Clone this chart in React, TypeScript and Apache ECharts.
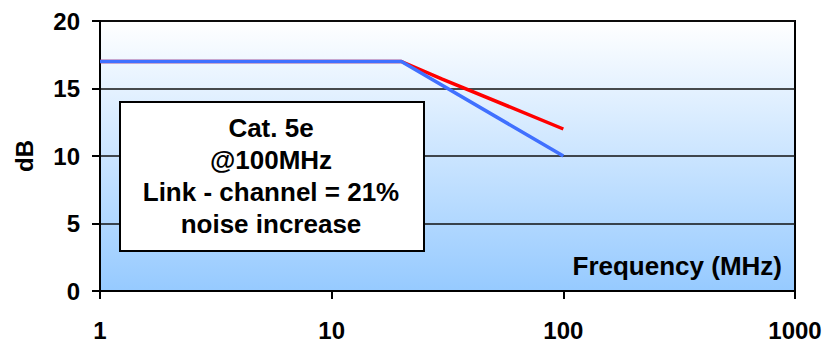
import React, { useEffect, useRef } from "react";
import * as echarts from "echarts";

const redSeries: [number, number][] = [[1, 17], [20, 17], [30, 15.7], [100, 12]];
const blueSeries: [number, number][] = [[1, 17], [20, 17], [100, 10]];
const noteLines = ["Cat. 5e", "@100MHz", "Link - channel = 21%", "noise increase"];
const xTitle = "Frequency (MHz)";
const yTitle = "dB";

export default function App() {
  const ref = useRef<HTMLDivElement>(null);
  useEffect(() => {
    const chart = echarts.init(ref.current!, null, { renderer: "svg" });
    const font = "Liberation Sans, Arial, sans-serif";
    chart.setOption({
      animation: false,
      grid: {
        left: 100, right: 30, top: 21, bottom: 49,
        show: true,
        borderColor: "#000", borderWidth: 2,
        backgroundColor: new echarts.graphic.LinearGradient(0, 0, 0, 1, [
          { offset: 0, color: "#FFFFFF" },
          { offset: 1, color: "#96CAFF" },
        ]),
      },
      xAxis: {
        type: "log", logBase: 10, min: 1, max: 1000,
        axisLine: { show: true, lineStyle: { color: "#000", width: 2 } },
        axisTick: { show: true, length: 8, lineStyle: { color: "#000", width: 2 } },
        axisLabel: {
          color: "#000", fontFamily: font, fontWeight: "bold", fontSize: 24, margin: 27,
          formatter: (v: number) => String(Math.round(v)),
        },
        splitLine: { show: false },
        minorTick: { show: false },
      },
      yAxis: {
        type: "value", min: 0, max: 20, interval: 5,
        name: yTitle, nameLocation: "middle", nameGap: 64, nameRotate: 90,
        nameTextStyle: { color: "#000", fontFamily: font, fontWeight: "bold", fontSize: 24 },
        axisLine: { show: true, lineStyle: { color: "#000", width: 2 } },
        axisTick: { show: true, length: 8, lineStyle: { color: "#000", width: 2 } },
        axisLabel: { color: "#000", fontFamily: font, fontWeight: "bold", fontSize: 24, margin: 20 },
        splitLine: { show: true, lineStyle: { color: "#111", width: 1.5 } },
      },
      series: [
        {
          type: "line", data: redSeries, symbol: "none",
          lineStyle: { color: "#FF0000", width: 3.5 }, z: 3,
        },
        {
          type: "line", data: blueSeries, symbol: "none",
          lineStyle: { color: "#4070FF", width: 3.5 }, z: 4,
        },
      ],
      graphic: [
        {
          type: "rect", left: 119, top: 101, z: 10,
          shape: { width: 304, height: 149 },
          style: { fill: "#FFFFFF", stroke: "#000", lineWidth: 2 },
        },
        {
          type: "text", x: 271, y: 112, z: 11,
          style: {
            text: noteLines.join("\n"), fill: "#000", font: `bold 26px ${font}`,
            align: "center", verticalAlign: "top", lineHeight: 32,
          },
        },
        {
          type: "text", x: 782, y: 266, z: 11,
          style: {
            text: xTitle, fill: "#000", font: `bold 26px ${font}`,
            align: "right", verticalAlign: "middle",
          },
        },
      ],
    });
    return () => chart.dispose();
  }, []);
  return <div ref={ref} style={{ width: 825, height: 342, position: "absolute", left: 0, top: 0 }} />;
}
